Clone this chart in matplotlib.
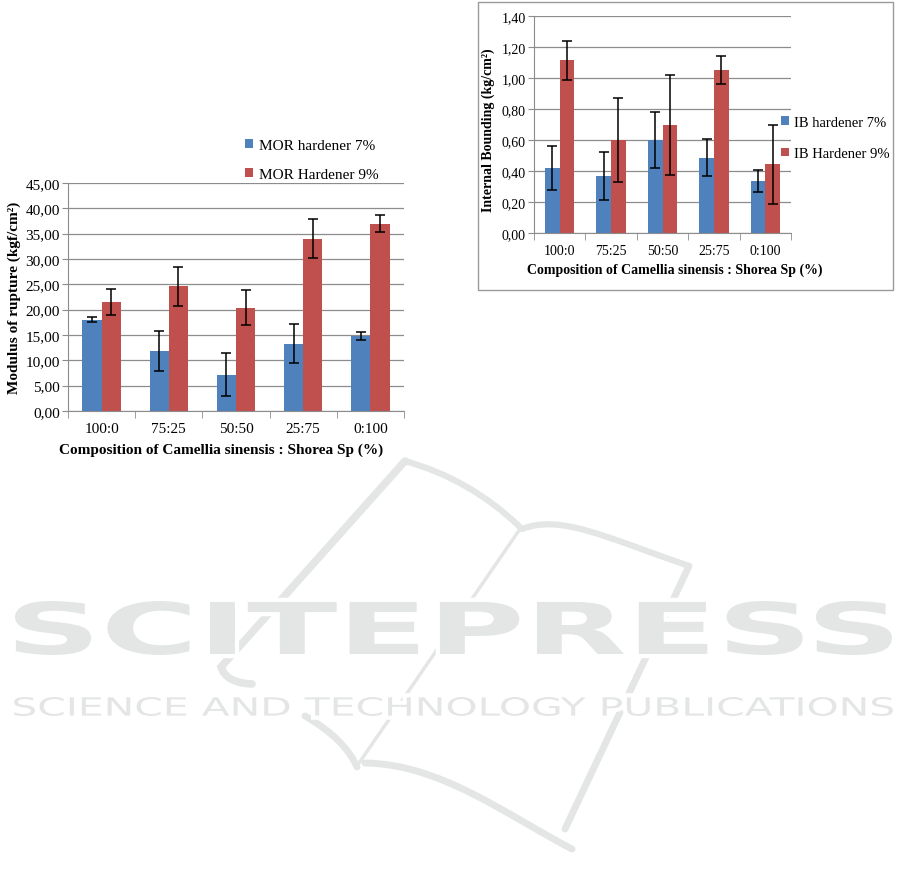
import numpy as np
import matplotlib
matplotlib.use('Agg')
import matplotlib.pyplot as plt
from matplotlib.ticker import FuncFormatter
from matplotlib.patches import Rectangle, PathPatch
from matplotlib.textpath import TextPath
from matplotlib.font_manager import FontProperties
from matplotlib.path import Path
from matplotlib.transforms import Affine2D

plt.rcParams['font.family'] = ['Liberation Serif', 'DejaVu Serif']

# data
compositions = ['100:0', '75:25', '50:50', '25:75', '0:100']
mor_7 = [18.0, 11.9, 7.2, 13.3, 14.8]
mor_7_err = [0.5, 3.95, 4.3, 3.9, 0.8]
mor_9 = [21.5, 24.6, 20.4, 34.0, 37.0]
mor_9_err = [2.55, 3.9, 3.5, 3.9, 1.65]
ib_7 = [0.42, 0.366, 0.60, 0.486, 0.335]
ib_7_err = [0.14, 0.154, 0.18, 0.12, 0.07]
ib_9 = [1.114, 0.60, 0.697, 1.052, 0.443]
ib_9_err = [0.127, 0.268, 0.325, 0.09, 0.257]

BLUE = '#4F81BD'
RED = '#C0504D'
GRID = '#8c8c8c'
WM = '#e4e6e6'

W, H = 901, 887
fig = plt.figure(figsize=(W / 100, H / 100), dpi=100)


def fx(x):
    return x / W


def fy(y):
    return 1 - y / H


def comma(v, pos):
    return f'{v:.2f}'.replace('.', ',')


# ---------- watermark ----------
def book_line(pts, codes, lw):
    verts = [(fx(x), fy(y)) for x, y in pts]
    fig.add_artist(PathPatch(Path(verts, codes), facecolor='none', edgecolor=WM,
                             lw=lw, transform=fig.transFigure, capstyle='round'))


M, L, C3, C4 = Path.MOVETO, Path.LINETO, Path.CURVE3, Path.CURVE4
book_line([(405, 462), (470, 480), (520, 528)], [M, C3, C3], 4.5)
book_line([(522, 530), (560, 515), (605, 538), (689, 567)], [M, C4, C4, C4], 4.5)
book_line([(689, 567), (565, 830)], [M, L], 5)
book_line([(365, 764), (440, 765), (505, 815), (572, 850)], [M, C4, C4, C4], 5)
book_line([(520, 530), (357, 767)], [M, L], 2.5)
book_line([(405, 462), (221, 668), (226, 684), (252, 685)], [M, L, C3, C3], 5.5)
book_line([(305, 717), (345, 740), (357, 768)], [M, C3, C3], 5)


def fit_text(s, x0, y0, x1, y1, weight):
    tp = TextPath((0, 0), s, size=100,
                  prop=FontProperties(family='DejaVu Sans', weight=weight))
    bb = tp.get_extents()
    tr = (Affine2D().translate(-bb.x0, -bb.y0)
          .scale((fx(x1) - fx(x0)) / bb.width, (fy(y0) - fy(y1)) / bb.height)
          .translate(fx(x0), fy(y1)))
    p = tr.transform_path(tp)
    fig.add_artist(PathPatch(p, facecolor='white', edgecolor='white', lw=6,
                             transform=fig.transFigure))
    fig.add_artist(PathPatch(p, facecolor=WM, edgecolor='none',
                             transform=fig.transFigure))


fit_text('SCITEPRESS', 15, 602, 892, 656, 'bold')
fit_text('SCIENCE AND TECHNOLOGY PUBLICATIONS', 14, 698, 893, 717, 'normal')


# ---------- shared bar drawing ----------
def draw(ax, a, a_err, b, b_err, ymax, step, tick_fs):
    x = np.arange(len(compositions))
    w = 0.285
    ek = dict(ecolor='black', elinewidth=1.1, capthick=1.1)
    ba = ax.bar(x - w / 2, a, w, color=BLUE, yerr=a_err, capsize=3.5, error_kw=ek, zorder=2)
    bb = ax.bar(x + w / 2, b, w, color=RED, yerr=b_err, capsize=3.5, error_kw=ek, zorder=2)
    ax.set_xlim(-0.5, len(compositions) - 0.5)
    ax.set_ylim(0, ymax)
    ax.set_yticks(np.arange(0, ymax + step / 2, step))
    ax.yaxis.set_major_formatter(FuncFormatter(comma))
    ax.set_xticks(x)
    ax.set_xticklabels(compositions)
    ax.set_xticks(np.arange(-0.5, len(compositions), 1), minor=True)
    ax.tick_params(axis='x', which='major', length=0, pad=8, labelsize=tick_fs)
    ax.tick_params(axis='x', which='minor', length=5, color=GRID, direction='out')
    ax.tick_params(axis='y', length=4, color=GRID, labelsize=tick_fs, pad=2)
    ax.grid(axis='y', color=GRID, lw=0.9)
    ax.set_axisbelow(True)
    for s in ['top', 'right']:
        ax.spines[s].set_visible(False)
    for s in ['left', 'bottom']:
        ax.spines[s].set_color(GRID)
    ax.set_facecolor('none')
    return ba, bb


# ---------- left chart: MOR ----------
ax1 = fig.add_axes([fx(68), fy(412), fx(404) - fx(68), fy(184) - fy(412)])
b7, b9 = draw(ax1, mor_7, mor_7_err, mor_9, mor_9_err, 45, 5, 11)
fig.text(fx(14), fy(298), 'Modulus of rupture (kgf/cm²)', rotation=90,
         ha='center', va='center', fontsize=11, fontweight='bold')
fig.text(fx(221), fy(450), 'Composition of Camellia sinensis : Shorea Sp (%)',
         ha='center', va='center', fontsize=11, fontweight='bold')
ax1.legend([b7, b9], ['MOR hardener 7%', 'MOR Hardener 9%'],
           loc='center left', bbox_to_anchor=(fx(245), fy(161)),
           bbox_transform=fig.transFigure, frameon=False, fontsize=11,
           handlelength=0.55, handleheight=0.55, handletextpad=0.35,
           labelspacing=1.05, borderaxespad=0, borderpad=0)

# ---------- right chart: IB ----------
fig.add_artist(Rectangle((fx(478), fy(291)), fx(893) - fx(478), fy(3) - fy(291),
                         transform=fig.transFigure, facecolor='white',
                         edgecolor='#9a9a9a', lw=1, zorder=0))
ax2 = fig.add_axes([fx(534), fy(234), fx(791) - fx(534), fy(17) - fy(234)])
i7, i9 = draw(ax2, ib_7, ib_7_err, ib_9, ib_9_err, 1.4, 0.2, 10)
fig.text(fx(488), fy(130), 'Internal Bounding (kg/cm²)', rotation=90,
         ha='center', va='center', fontsize=10, fontweight='bold')
fig.text(fx(675), fy(270), 'Composition of Camellia sinensis : Shorea Sp (%)',
         ha='center', va='center', fontsize=10, fontweight='bold')
ax2.legend([i7, i9], ['IB hardener 7%', 'IB Hardener 9%'],
           loc='center left', bbox_to_anchor=(fx(781), fy(139)),
           bbox_transform=fig.transFigure, frameon=False, fontsize=10.5,
           handlelength=0.55, handleheight=0.55, handletextpad=0.35,
           labelspacing=1.25, borderaxespad=0, borderpad=0)

fig.savefig('out.png', dpi=100, facecolor='white')
